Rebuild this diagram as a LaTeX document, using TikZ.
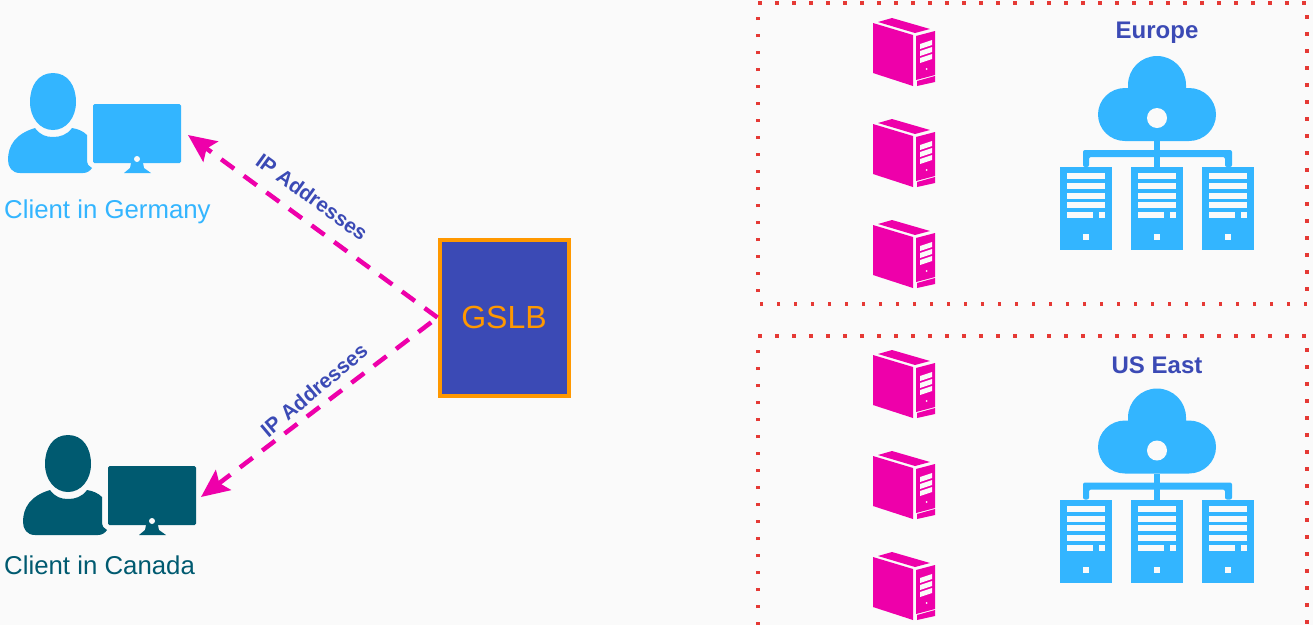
\documentclass[tikz,border=0pt]{standalone}
\usepackage{fontspec}
\setmainfont{Liberation Sans}
\usetikzlibrary{arrows.meta}
\definecolor{bgc}{HTML}{FAFAFA}
\definecolor{sky}{HTML}{33B5FF}
\definecolor{deep}{HTML}{005A70}
\definecolor{mag}{HTML}{EE00AA}
\definecolor{indi}{HTML}{3B4AB5}
\definecolor{org}{HTML}{FF9800}
\definecolor{dotred}{HTML}{E53935}
\tikzset{
  x=1pt,y=-1pt,
  region/.style={dotred,line width=3.5pt,dash pattern=on 3.5pt off 13.5pt},
  link/.style={mag,line width=4.5pt,dash pattern=on 16pt off 12pt,-{Stealth[length=28pt,width=25pt,inset=5pt]}},
  clientlabel/.style={font=\fontsize{25.8}{28}\selectfont,inner sep=0pt,anchor=base west},
  iplabel/.style={indi,font=\fontsize{20.8}{24}\selectfont\bfseries,inner sep=0pt},
  regionlabel/.style={indi,font=\fontsize{24}{28}\selectfont\bfseries,inner sep=0pt},
  pics/clienticon/.style={code={
    \fill[pic actions] (53,73) .. controls (68,73) and (76,86) .. (76,102)
       .. controls (76,118) and (66,130) .. (53,130)
       .. controls (40,130) and (30,118) .. (30,102)
       .. controls (30,86) and (38,73) .. (53,73) -- cycle;
    \fill[pic actions] (35,128) .. controls (40,135) and (46,137) .. (53,137)
       .. controls (60,137) and (67,135) .. (72,128)
       .. controls (78,129) and (83,131) .. (87,135) -- (87,160)
       .. controls (87,164) and (89,167) .. (92,168)
       .. controls (90,171) and (87,173) .. (83,173) -- (20,173)
       .. controls (12,173) and (8,167) .. (8,160)
       .. controls (8,146) and (15,134) .. (35,128) -- cycle;
    \fill[pic actions,rounded corners=1.5pt] (93,104) rectangle (181,163);
    \fill[pic actions] (131,163) -- (143,163) -- (144,168) -- (151,173) -- (124,173) -- (130,168) -- cycle;
    \fill[bgc] (137,159) circle (3);
  }},
  pics/towericon/.style={code={
    \fill[pic actions] (873,23) -- (913,35) -- (913,86) -- (873,73) -- cycle;
    \fill[pic actions] (878,22) -- (892,18) -- (930,29) -- (915,33) -- cycle;
    \fill[pic actions] (916,36) -- (935,31) -- (935,75) -- (916,80) -- cycle;
    \fill[pic actions] (917,81) -- (935,76) -- (935,82) -- (917,86) -- cycle;
    \foreach \s in {0,7,14}{
      \fill[bgc] (920,44+\s) -- (932,40+\s) -- (932,45+\s) -- (920,49+\s) -- cycle;
    }
    \fill[bgc] (926.5,69) circle (1);
  }},
  pics/cloudicon/.style={code={
    \fill[pic actions] (1125,141) arc[start angle=270,end angle=90,x radius=27,y radius=-26.5]
       -- (1128,88) -- (1128,85) arc[start angle=180,end angle=0,x radius=29,y radius=-29]
       -- (1186,88) -- (1189,88) arc[start angle=90,end angle=-90,x radius=27,y radius=-26.5] -- cycle;
    \fill[bgc] (1157,118) circle (10);
    \fill[pic actions] (1154,141) rectangle (1160,167);
    \fill[pic actions,rounded corners=2pt] (1083,167) -- (1083,150) -- (1232,150) -- (1232,167) -- (1225,167) -- (1225,157) -- (1089,157) -- (1089,167) -- cycle;
    \foreach \x in {1060,1131,1202}{
      \fill[pic actions] (\x,167) rectangle (\x+52,250);
      \foreach \y in {173,183,192.5,202}{
        \fill[bgc] (\x+7,\y) rectangle (\x+45,\y+6);
      }
      \fill[bgc] (\x+7,212) rectangle (\x+33,218);
      \fill[bgc] (\x+39,212) rectangle (\x+45,218);
      \fill[bgc] (\x+23,234) rectangle (\x+29,240);
    }
  }}
}
\begin{document}
\begin{tikzpicture}
\useasboundingbox (0,0) rectangle (1313,625);
\fill[bgc] (0,0) rectangle (1313,625);

% regions
\coordinate (r1a) at (758,3);
\coordinate (r1b) at (1307,3);
\coordinate (r1c) at (1307,304);
\coordinate (r1d) at (758,304);
\coordinate (r2a) at (758,336);
\coordinate (r2b) at (1307,336);
\coordinate (r2c) at (1307,625);
\coordinate (r2d) at (758,625);
\draw[region] (r1a) -- (r1b) -- (r1c) -- (r1d) -- cycle;
\draw[region] (r2d) -- (r2a) -- (r2b) -- (r2c);

% servers
\foreach \s in {0,101,202,332,433,534}{
  \pic[fill=mag] at (0,\s) {towericon};
}
\pic[fill=sky] at (0,0) {cloudicon};
\pic[fill=sky] at (0,332.5) {cloudicon};
\node[regionlabel] (europe) at (1157,33) {Europe};
\node[regionlabel] (useast) at (1157,365) {US East};

% clients
\pic[fill=sky] at (0,0) {clienticon};
\pic[fill=deep] at (15,362) {clienticon};
\node[clientlabel,text=sky] (germany) at (4,218) {Client in Germany};
\node[clientlabel,text=deep] (canada) at (4,574) {Client in Canada};

% GSLB
\node[draw=org,fill=indi,line width=4pt,minimum width=129pt,minimum height=156pt,inner sep=0pt,
      text=org,font=\fontsize{32}{36}\selectfont] (gslb) at (504,317.5) {\raisebox{-4pt}{GSLB}};

% links
\coordinate (tipg) at (188,135);
\coordinate (tipc) at (201,497);
\draw[link] (gslb.west) -- (tipg);
\draw[link,dash phase=-8pt] (gslb.west) -- (tipc);
\node[iplabel,rotate=-36] (ip1) at (312,197) {IP Addresses};
\node[iplabel,rotate=40] (ip2) at (314,390) {IP Addresses};
\end{tikzpicture}
\end{document}
